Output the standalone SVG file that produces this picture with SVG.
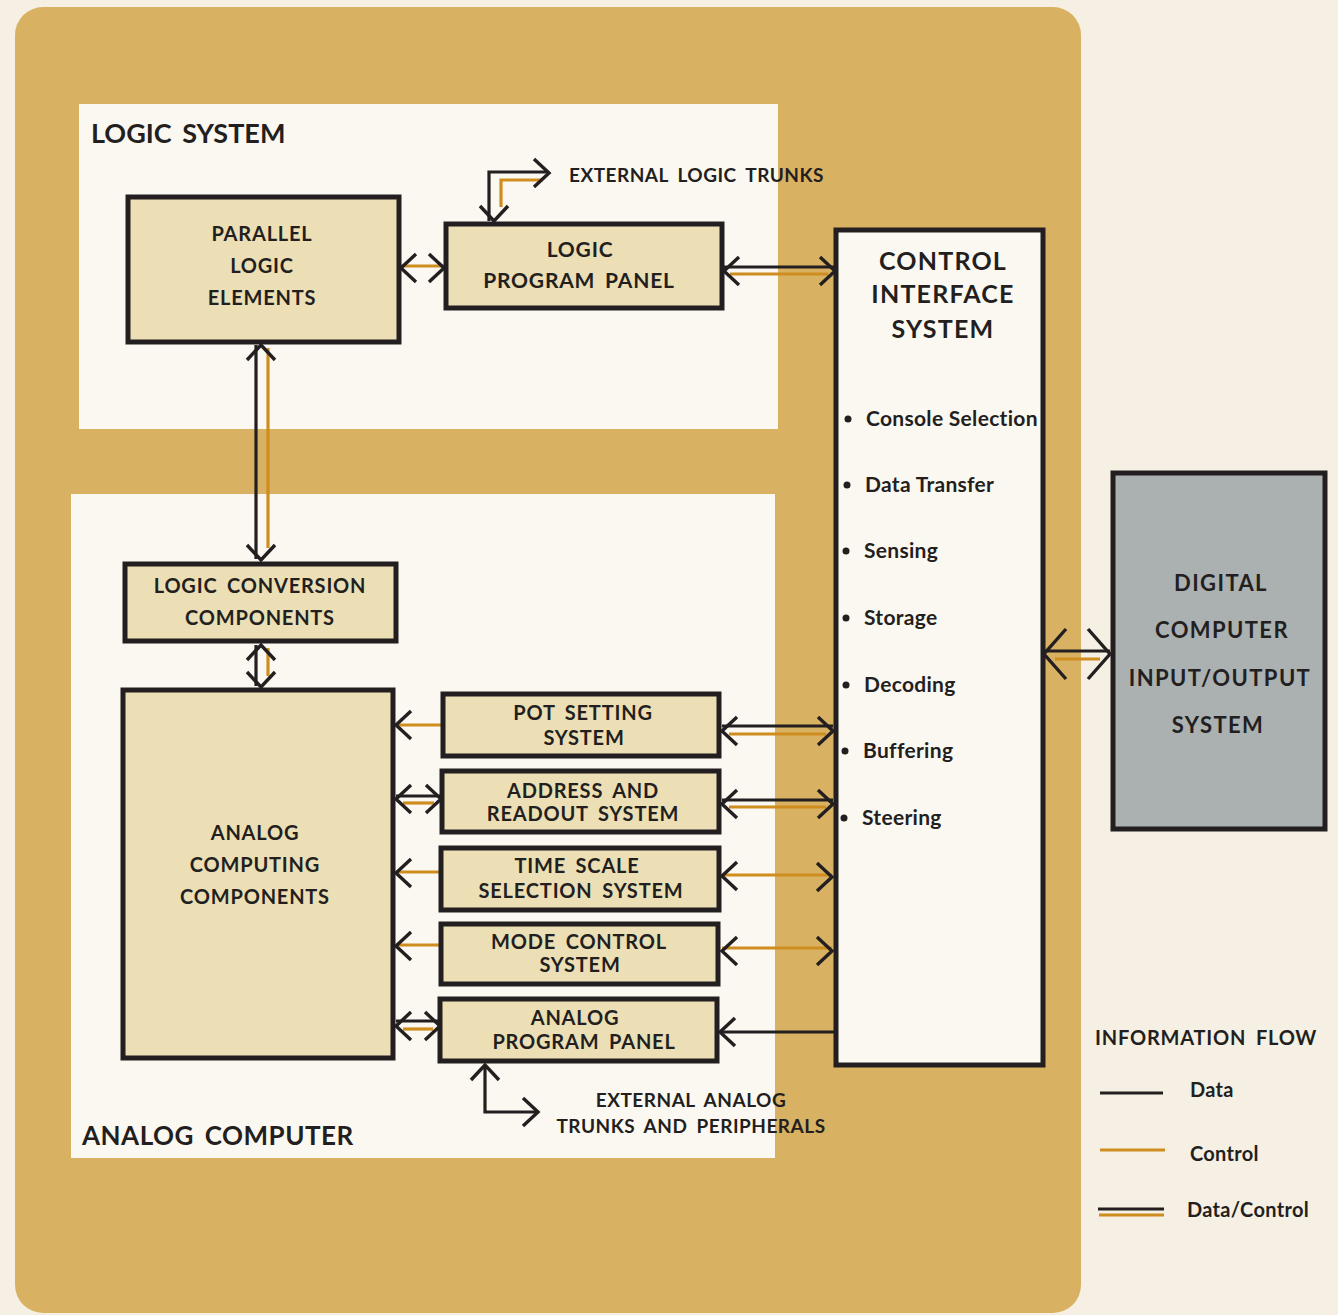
<svg xmlns="http://www.w3.org/2000/svg" xmlns:xlink="http://www.w3.org/1999/xlink" width="1338" height="1315" viewBox="0 0 1338 1315">
<style>
.t{font-family:Lato,"Open Sans","Liberation Sans",sans-serif;font-weight:700;fill:#231f20;word-spacing:4px;letter-spacing:0.8px}
.c{text-anchor:middle}
.m{letter-spacing:0.3px;word-spacing:0}
.x{letter-spacing:0.5px}
.box{fill:#ecdfb5;stroke:#231f20;stroke-width:5;stroke-linejoin:miter}
.wbox{fill:#fbf8f1;stroke:#231f20;stroke-width:5}
.dbox{fill:#abb0b1;stroke:#231f20;stroke-width:5}
.d{fill:none;stroke:#231f20;stroke-width:3.2}
.o{fill:none;stroke:#d08d1f;stroke-width:3.2}
.ch{fill:none;stroke:#231f20;stroke-width:3.4;stroke-linejoin:miter;stroke-linecap:butt}
</style>
<defs>
<path id="chv" d="M15,-14 L0,0 L15,14"/>
<path id="chb" d="M22,-25 L0,0 L22,25"/>
</defs>
<rect width="1338" height="1315" fill="#f5f0e3"/>
<rect x="15" y="7" width="1066" height="1306" rx="28" fill="#d9b163"/>
<rect x="79" y="104" width="699" height="325" fill="#fbf8f1"/>
<rect x="71" y="494" width="704" height="664" fill="#fbf8f1"/>
<text class="t" x="91" y="143" font-size="27" style="letter-spacing:0">LOGIC SYSTEM</text>
<text class="t" x="82" y="1145" font-size="26" style="letter-spacing:0.5px">ANALOG COMPUTER</text>

<g id="connectors">
  <!-- PLE <-> LPP -->
  <line class="o" x1="400" y1="266" x2="445" y2="266"/>
  <use xlink:href="#chv" class="ch" transform="translate(401,268)"/>
  <use xlink:href="#chv" class="ch" transform="translate(444,268) scale(-1,1)"/>
  <!-- LPP <-> CIS -->
  <line class="d" x1="724" y1="267" x2="835" y2="267"/>
  <line class="o" x1="730" y1="274" x2="828" y2="274"/>
  <use xlink:href="#chv" class="ch" transform="translate(724,271)"/>
  <use xlink:href="#chv" class="ch" transform="translate(835,271) scale(-1,1)"/>
  <!-- external logic trunks -->
  <polyline class="d" points="489,221 489,172 548,172"/>
  <polyline class="o" points="501,207 501,180 543,180"/>
  <use xlink:href="#chv" class="ch" transform="translate(494,221) rotate(-90)"/>
  <use xlink:href="#chv" class="ch" transform="translate(549,173) scale(-1,1)"/>
  <!-- PLE <-> LCC -->
  <line class="d" x1="256" y1="345" x2="256" y2="559"/>
  <line class="o" x1="268" y1="348" x2="268" y2="548"/>
  <use xlink:href="#chv" class="ch" transform="translate(261,345) rotate(90)"/>
  <use xlink:href="#chv" class="ch" transform="translate(261,560) rotate(-90)"/>
  <!-- LCC <-> ACC -->
  <line class="d" x1="256" y1="645" x2="256" y2="686"/>
  <line class="o" x1="268" y1="648" x2="268" y2="676"/>
  <use xlink:href="#chv" class="ch" transform="translate(261,645) rotate(90)"/>
  <use xlink:href="#chv" class="ch" transform="translate(261,687) rotate(-90)"/>
  <!-- Pot setting -->
  <line class="o" x1="396" y1="725" x2="442" y2="725"/>
  <use xlink:href="#chv" class="ch" transform="translate(396,725)"/>
  <line class="d" x1="722" y1="726" x2="833" y2="726"/>
  <line class="o" x1="729" y1="734" x2="826" y2="734"/>
  <use xlink:href="#chv" class="ch" transform="translate(722,731)"/>
  <use xlink:href="#chv" class="ch" transform="translate(833,731) scale(-1,1)"/>
  <!-- Address and readout -->
  <line class="d" x1="396" y1="796" x2="441" y2="796"/>
  <line class="o" x1="403" y1="803" x2="434" y2="803"/>
  <use xlink:href="#chv" class="ch" transform="translate(396,799)"/>
  <use xlink:href="#chv" class="ch" transform="translate(441,799) scale(-1,1)"/>
  <line class="d" x1="722" y1="800" x2="833" y2="800"/>
  <line class="o" x1="729" y1="807" x2="826" y2="807"/>
  <use xlink:href="#chv" class="ch" transform="translate(722,804)"/>
  <use xlink:href="#chv" class="ch" transform="translate(833,804) scale(-1,1)"/>
  <!-- Time scale -->
  <line class="o" x1="396" y1="872" x2="440" y2="872"/>
  <use xlink:href="#chv" class="ch" transform="translate(396,873)"/>
  <line class="o" x1="722" y1="875" x2="832" y2="875"/>
  <use xlink:href="#chv" class="ch" transform="translate(722,876)"/>
  <use xlink:href="#chv" class="ch" transform="translate(832,877) scale(-1,1)"/>
  <!-- Mode control -->
  <line class="o" x1="396" y1="945" x2="440" y2="945"/>
  <use xlink:href="#chv" class="ch" transform="translate(396,946)"/>
  <line class="o" x1="722" y1="948" x2="832" y2="948"/>
  <use xlink:href="#chv" class="ch" transform="translate(722,951)"/>
  <use xlink:href="#chv" class="ch" transform="translate(832,951) scale(-1,1)"/>
  <!-- Analog program panel -->
  <line class="d" x1="396" y1="1021" x2="440" y2="1021"/>
  <line class="o" x1="403" y1="1029" x2="433" y2="1029"/>
  <use xlink:href="#chv" class="ch" transform="translate(396,1026)"/>
  <use xlink:href="#chv" class="ch" transform="translate(440,1026) scale(-1,1)"/>
  <line class="d" x1="720" y1="1032" x2="836" y2="1032"/>
  <use xlink:href="#chv" class="ch" transform="translate(720,1032)"/>
  <!-- External analog trunks -->
  <polyline class="d" points="485,1066 485,1112 537,1112"/>
  <use xlink:href="#chv" class="ch" transform="translate(485,1065) rotate(90)"/>
  <use xlink:href="#chv" class="ch" transform="translate(538,1112) scale(-1,1)"/>
  <!-- CIS <-> Digital -->
  <line class="d" x1="1044" y1="651" x2="1110" y2="651"/>
  <line class="o" x1="1055" y1="659" x2="1100" y2="659"/>
  <use xlink:href="#chb" class="ch" transform="translate(1044,654)"/>
  <use xlink:href="#chb" class="ch" transform="translate(1110,654) scale(-1,1)"/>
</g>

<g id="parallel-logic-elements">
  <rect class="box" x="128" y="197" width="271" height="145"/>
  <text class="t c" x="262" y="241" font-size="20">PARALLEL</text>
  <text class="t c" x="262" y="273" font-size="20">LOGIC</text>
  <text class="t c" x="262" y="305" font-size="20">ELEMENTS</text>
</g>
<g id="logic-program-panel">
  <rect class="box" x="446" y="224" width="276" height="84"/>
  <text class="t c" x="580" y="257" font-size="21">LOGIC</text>
  <text class="t c" x="579" y="288" font-size="21">PROGRAM PANEL</text>
</g>
<text class="t x" x="569" y="182" font-size="19">EXTERNAL LOGIC TRUNKS</text>
<g id="control-interface-system">
  <rect class="wbox" x="836" y="230" width="207" height="835"/>
  <text class="t c" x="943" y="270" font-size="25" style="letter-spacing:1.2px">CONTROL</text>
  <text class="t c" x="943" y="303" font-size="25" style="letter-spacing:1.2px">INTERFACE</text>
  <text class="t c" x="943" y="338" font-size="25" style="letter-spacing:1.2px">SYSTEM</text>
  <g class="t m" font-size="21">
    <circle cx="848" cy="419" r="3.5"/><text x="866" y="426">Console Selection</text>
    <circle cx="847" cy="485" r="3.5"/><text x="865" y="492">Data Transfer</text>
    <circle cx="846" cy="551" r="3.5"/><text x="864" y="558">Sensing</text>
    <circle cx="846" cy="618" r="3.5"/><text x="864" y="625">Storage</text>
    <circle cx="846" cy="685" r="3.5"/><text x="864" y="692">Decoding</text>
    <circle cx="845" cy="751" r="3.5"/><text x="863" y="758">Buffering</text>
    <circle cx="844" cy="818" r="3.5"/><text x="862" y="825">Steering</text>
  </g>
</g>
<g id="digital-computer-io">
  <rect class="dbox" x="1113" y="473" width="212" height="356"/>
  <text class="t c" x="1221" y="591" font-size="22" style="letter-spacing:1.4px">DIGITAL</text>
  <text class="t c" x="1222" y="638" font-size="22" style="letter-spacing:1.4px">COMPUTER</text>
  <text class="t c" x="1220" y="686" font-size="22" style="letter-spacing:1.4px">INPUT/OUTPUT</text>
  <text class="t c" x="1218" y="733" font-size="22" style="letter-spacing:1.4px">SYSTEM</text>
</g>
<g id="logic-conversion-components">
  <rect class="box" x="125" y="564" width="271" height="77"/>
  <text class="t c" x="260" y="593" font-size="20">LOGIC CONVERSION</text>
  <text class="t c" x="260" y="625" font-size="20">COMPONENTS</text>
</g>
<g id="analog-computing-components">
  <rect class="box" x="123" y="690" width="270" height="368"/>
  <text class="t c" x="255" y="840" font-size="20">ANALOG</text>
  <text class="t c" x="255" y="872" font-size="20">COMPUTING</text>
  <text class="t c" x="255" y="904" font-size="20">COMPONENTS</text>
</g>
<g id="pot-setting-system">
  <rect class="box" x="443" y="694" width="276" height="62"/>
  <text class="t c" x="583" y="720" font-size="20">POT SETTING</text>
  <text class="t c" x="584" y="745" font-size="20">SYSTEM</text>
</g>
<g id="address-readout-system">
  <rect class="box" x="442" y="771" width="277" height="61"/>
  <text class="t c" x="583" y="798" font-size="20">ADDRESS AND</text>
  <text class="t c" x="583" y="821" font-size="20">READOUT SYSTEM</text>
</g>
<g id="time-scale-selection-system">
  <rect class="box" x="441" y="848" width="278" height="62"/>
  <text class="t c" x="577" y="873" font-size="20">TIME SCALE</text>
  <text class="t c" x="581" y="898" font-size="20">SELECTION SYSTEM</text>
</g>
<g id="mode-control-system">
  <rect class="box" x="441" y="924" width="277" height="60"/>
  <text class="t c" x="579" y="949" font-size="20">MODE CONTROL</text>
  <text class="t c" x="580" y="972" font-size="20">SYSTEM</text>
</g>
<g id="analog-program-panel">
  <rect class="box" x="440" y="999" width="277" height="62"/>
  <text class="t c" x="575" y="1025" font-size="20">ANALOG</text>
  <text class="t c" x="584" y="1049" font-size="20">PROGRAM PANEL</text>
</g>
<text class="t c x" x="691" y="1107" font-size="19">EXTERNAL ANALOG</text>
<text class="t c x" x="691" y="1133" font-size="19">TRUNKS AND PERIPHERALS</text>

<g id="legend">
  <text class="t" x="1095" y="1045" font-size="20">INFORMATION FLOW</text>
  <line class="d" x1="1100" y1="1093" x2="1163" y2="1093"/>
  <text class="t m" x="1190" y="1097" font-size="20">Data</text>
  <line class="o" x1="1100" y1="1150" x2="1165" y2="1150"/>
  <text class="t m" x="1190" y="1161" font-size="20">Control</text>
  <line class="d" x1="1098" y1="1209" x2="1164" y2="1209"/>
  <line class="o" x1="1099" y1="1215" x2="1164" y2="1215"/>
  <text class="t m" x="1187" y="1217" font-size="20">Data/Control</text>
</g>
</svg>
